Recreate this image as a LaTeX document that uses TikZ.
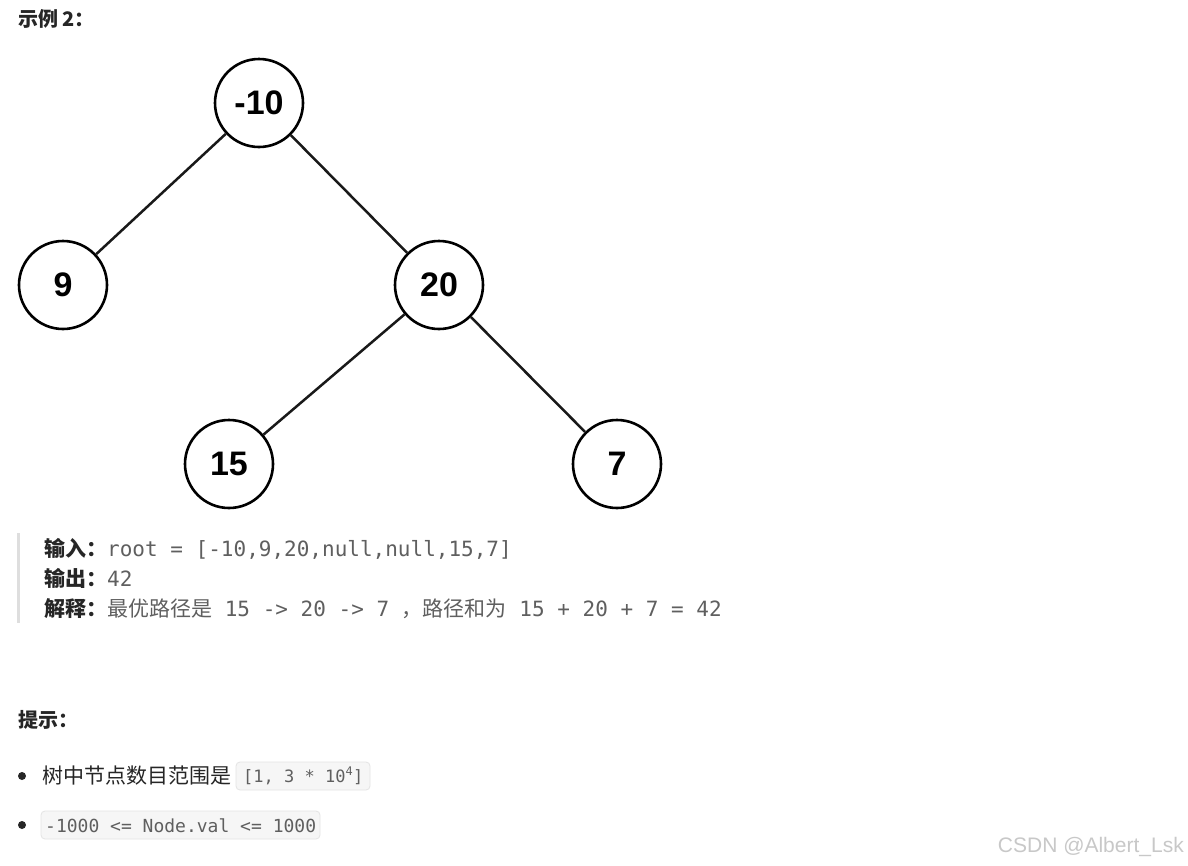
\documentclass[tikz,border=0pt]{standalone}
\usepackage{fontspec}
\setmainfont{Liberation Sans}
\newfontfamily\cjk{Noto Sans CJK SC}
\newfontfamily\mono{DejaVu Sans Mono}
\usepackage{tikz}
\usetikzlibrary{positioning}
\definecolor{darktext}{RGB}{38,38,38}
\definecolor{softtext}{RGB}{95,95,95}
\definecolor{quotebar}{RGB}{222,222,222}
\definecolor{codebg}{RGB}{246,246,246}
\definecolor{codeline}{RGB}{228,228,228}
\definecolor{markgray}{RGB}{200,200,200}
\tikzset{
    treenode/.style={circle, draw=black, line width=2.6pt, minimum size=88pt, inner sep=0pt,
        font=\fontsize{34}{38}\selectfont\bfseries},
    treeedge/.style={line width=2.5pt, draw=black!90},
    textline/.style={anchor=base west, inner sep=0pt, text=softtext, font=\fontsize{21}{24}\selectfont},
    codebox/.style={rounded corners=4pt, fill=codebg, draw=codeline, line width=0.8pt}
}

\begin{document}
\begin{tikzpicture}[x=1pt, y=-1pt]
    \useasboundingbox[fill=white] (0,0) rectangle (1188,865);

    % Heading
    \node[textline, text=darktext, font=\fontsize{20}{22}\selectfont\cjk\bfseries] (head) at (18,26) {示例\ 2：};

    % Draw the tree
    \node[treenode] (n10) at (259,103) {-10};
    \node[treenode] (n9)  at (63,285)  {9};
    \node[treenode] (n20) at (439,285) {20};
    \node[treenode] (n15) at (229,464) {15};
    \node[treenode] (n7)  at (617,464) {7};
    \foreach \a/\b in {n10/n9, n10/n20, n20/n15, n20/n7} \draw[treeedge] (\a) -- (\b);

    % Example block with bar
    \fill[quotebar] (17,533) rectangle (20,623);
    \node[textline] (inp) at (44,556) {{\cjk\bfseries\color{darktext}输入：}{\mono root = [-10,9,20,null,null,15,7]}};
    \node[textline] (out) at (44,586) {{\cjk\bfseries\color{darktext}输出：}{\mono 42}};
    \node[textline] (expl) at (44,616) {{\cjk\bfseries\color{darktext}解释：}{\cjk 最优路径是}{\mono\ 15 -> 20 -> 7 }{\cjk ，路径和为}{\mono\ 15 + 20 + 7 = 42}};

    % Hints
    \node[textline, text=darktext, font=\fontsize{20}{22}\selectfont\cjk\bfseries] (hint) at (18,727) {提示：};
    \foreach \y in {776,825} \fill[darktext] (22,\y) circle (4pt);
    \draw[codebox] (236,762) rectangle (370,790);
    \draw[codebox] (41,811) rectangle (320,839);
    \node[textline, text=darktext] (h1) at (42,783) {\cjk 树中节点数目范围是};
    \node[textline, font=\fontsize{17}{20}\selectfont\mono] (c1) at (243,782) {[1, 3 * 10\textsuperscript{4}]};
    \node[textline, font=\fontsize{18}{20}\selectfont\mono] (c2) at (45,832) {-1000 <= Node.val <= 1000};

    % Watermark
    \node[anchor=base east, inner sep=0pt, text=markgray, font=\fontsize{21}{24}\selectfont] (mark) at (1184,852) {CSDN @Albert\_Lsk};
\end{tikzpicture}
\end{document}
